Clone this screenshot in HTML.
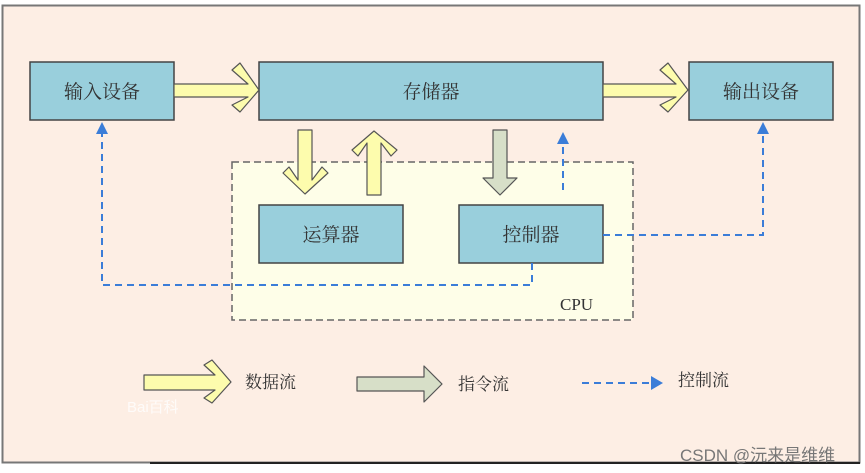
<!DOCTYPE html>
<html><head><meta charset="utf-8"><style>
html,body{margin:0;padding:0;background:#fff;width:865px;height:473px;overflow:hidden}
text{font-family:"Liberation Serif","Noto Serif CJK SC","Noto Sans CJK SC",serif;fill:#333}
</style></head><body>
<svg width="865" height="473" viewBox="0 0 865 473" xmlns="http://www.w3.org/2000/svg">
<rect x="2.5" y="5.5" width="857" height="457" fill="#fdeee4" stroke="#777" stroke-width="2"/>
<line x1="150" y1="463" x2="860" y2="463" stroke="#222" stroke-width="2"/>
<rect x="232" y="162" width="401" height="158" fill="#fefee8" stroke="#666" stroke-width="1.5" stroke-dasharray="7,4"/>
<text x="560" y="310" font-size="17">CPU</text>
<g fill="#99cfdc" stroke="#444" stroke-width="1.5">
<rect x="30" y="62" width="144" height="58"/>
<rect x="259" y="62" width="344" height="58"/>
<rect x="689" y="62" width="144" height="58"/>
<rect x="259" y="205" width="144" height="58"/>
<rect x="459" y="205" width="144" height="58"/>
</g>
<g font-size="19" text-anchor="middle">
<text x="102" y="98">输入设备</text>
<text x="431" y="98">存储器</text>
<text x="761" y="98">输出设备</text>
<text x="331" y="241">运算器</text>
<text x="531" y="241">控制器</text>
</g>
<g fill="#fdfcad" stroke="#555" stroke-width="1.2" stroke-linejoin="round">
<path d="M174,84 L248,84 L232,70 L240,63 L259,90 L240,112 L232,105 L248,97 L174,97 Z"/>
<path d="M603,84 L676,84 L660,70 L668,63 L688,90 L668,112 L660,105 L676,97 L603,97 Z"/>
<path d="M298,130 L312,130 L312,180 L322,167 L328,173 L305,194 L283,173 L289,167 L298,180 Z"/>
<path d="M367,195 L381,195 L381,143 L391,156 L397,150 L374,131 L352,150 L358,156 L367,143 Z"/>
<path d="M144,375 L215,375 L204,365 L212,360 L231,382 L212,403 L204,398 L215,390 L144,390 Z"/>
</g>
<g fill="#d7dfc8" stroke="#555" stroke-width="1.2" stroke-linejoin="round">
<path d="M493,130 L507,130 L507,178 L517,178 L500,195 L483,178 L493,178 Z"/>
<path d="M357,377 L424,377 L424,366 L442,384 L424,402 L424,391 L357,391 Z"/>
</g>
<g fill="none" stroke="#3b7dd8" stroke-width="2" stroke-dasharray="7,5">
<path d="M563,190 L563,142"/>
<path d="M603,235 L763,235 L763,132"/>
<path d="M532,263 L532,285 L102,285 L102,132"/>
<path d="M582,383 L650,383"/>
</g>
<g fill="#3b7dd8">
<path d="M557,144 L563,132 L569,144 Z"/>
<path d="M757,134 L763,122 L769,134 Z"/>
<path d="M96,134 L102,122 L108,134 Z"/>
<path d="M651,376 L663,383 L651,390 Z"/>
</g>
<g font-size="17">
<text x="245" y="388">数据流</text>
<text x="458" y="390">指令流</text>
<text x="678" y="386">控制流</text>
</g>
<text x="127" y="412" font-size="15" style="fill:#fff;opacity:.8;font-family:'Liberation Sans','Noto Sans CJK SC',sans-serif">Bai百科</text>
<text x="680" y="461" font-size="17" style="fill:#777;font-family:'Liberation Sans','Noto Sans CJK SC',sans-serif">CSDN @沅来是维维</text>
</svg>
</body></html>
